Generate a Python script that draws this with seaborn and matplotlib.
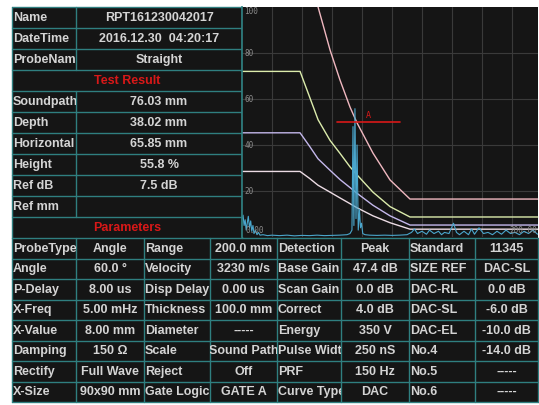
import seaborn as sns
import matplotlib.pyplot as plt
from matplotlib.patches import Rectangle
from matplotlib.transforms import Bbox, TransformedBbox

# Report header table (left of the A-scan)
info_labels = ["Name", "DateTime", "ProbeName", "", "Soundpath", "Depth",
               "Horizontal", "Height", "Ref dB", "Ref mm", ""]
info_values = ["RPT161230042017", "2016.12.30  04:20:17", "Straight", "Test Result",
               "76.03 mm", "38.02 mm", "65.85 mm", "55.8 %", "7.5 dB", "", "Parameters"]
info_titles = ["Test Result", "Parameters"]

# Parameter table, one list per column
param_col1 = ["ProbeType", "Angle", "P-Delay", "X-Freq", "X-Value", "Damping", "Rectify", "X-Size"]
param_val1 = ["Angle", "60.0 °", "8.00 us", "5.00 mHz", "8.00 mm", "150 Ω", "Full Wave", "90x90 mm"]
param_col2 = ["Range", "Velocity", "Disp Delay", "Thickness", "Diameter", "Scale", "Reject", "Gate Logic"]
param_val2 = ["200.0 mm", "3230 m/s", "0.00 us", "100.0 mm", "-----", "Sound Path", "Off", "GATE A"]
param_col3 = ["Detection", "Base Gain", "Scan Gain", "Correct", "Energy", "Pulse Width", "PRF", "Curve Type"]
param_val3 = ["Peak", "47.4 dB", "0.0 dB", "4.0 dB", "350 V", "250 nS", "150 Hz", "DAC"]
param_col4 = ["Standard", "SIZE REF", "DAC-RL", "DAC-SL", "DAC-EL", "No.4", "No.5", "No.6"]
param_val4 = ["11345", "DAC-SL", "0.0 dB", "-6.0 dB", "-10.0 dB", "-14.0 dB", "-----", "-----"]

# DAC curves (sound path mm vs amplitude %)
dac_x = [0, 38.7, 45, 50.7, 58.7, 65.3, 72, 76.7, 87.3, 98.7, 112, 200]
dac_rl = [143, 143, 122, 100, 81.3, 68.3, 56.5, 49.6, 36.5, 24.8, 16.5, 16.5]
dac_sl = [72, 72, 61, 51, 42, 36.4, 30.5, 27, 19.5, 13.2, 8.7, 8.7]
dac_el = [45.3, 45.3, 39.5, 34, 29, 25, 21.5, 19, 13.8, 9.2, 5.2, 5.2]
dac_n4 = [28.5, 28.5, 25.5, 22.5, 19.5, 17, 14.5, 12.7, 9.2, 6.2, 3.4, 3.4]

# A-scan echo
echo_x = [0, 0.7, 1.4, 2.1, 2.8, 3.5, 4.2, 5, 5.8, 6.5, 7.3, 8, 9, 10, 11, 12, 14, 17, 20,
          25, 30, 35, 40, 45, 50, 55, 60, 65, 70, 72, 73.3, 74, 74.6, 75.3, 76, 76.7,
          77.5, 78.3, 79, 79.7, 80.5, 82, 85, 90, 95, 100, 105, 110, 113, 115, 117,
          120, 123, 125, 128, 131, 133, 135, 138, 141, 143, 145, 148, 151, 153, 155,
          158, 161, 164, 167, 170, 173, 176, 179, 182, 185, 188, 191, 194, 197, 200]
echo_y = [8, 9.5, 5, 7.5, 3, 6, 9, 4, 7, 2.5, 5, 1.5, 3, 1, 2, 0.8, 1, 0.6, 0.8,
          0.6, 0.8, 0.5, 0.7, 0.6, 0.8, 0.6, 0.7, 0.8, 1, 1.5, 3, 48, 5, 55.8, 8, 40,
          3, 12, 4, 6, 1.5, 1, 0.8, 0.7, 0.8, 0.7, 0.8, 1, 2, 3.5, 1.5,
          2.5, 1.2, 3, 1.5, 2.5, 1, 2, 1.5, 6, 2, 1, 2.5, 1, 3.5, 1.2,
          4, 1.5, 2, 1, 2.5, 1.2, 3, 1.5, 2, 1, 2.5, 1.5, 3, 1.2, 2]

gate_x = [63.3, 105.3]
gate_level = [50, 50]

BG = "#151515"
LINE = "#2f7f80"
TXT = "#d4d4d4"
RED = "#d81818"
FONT = ["Liberation Sans", "DejaVu Sans"]

sns.set_theme(style="dark")

fig = plt.figure(figsize=(5.39, 4.05), dpi=100)
fig.patch.set_facecolor("white")
bg = fig.add_axes([0, 0, 1, 1])
bg.set_xlim(0, 539)
bg.set_ylim(405, 0)
bg.axis("off")
bg.add_patch(Rectangle((12, 7), 526, 395, color=BG, lw=0))


def cell_text(x0, x1, y0, y1, s, align="center", color=TXT):
    if align == "left":
        x, ha = x0 + 1, "left"
    else:
        x, ha = (x0 + x1) / 2, "center"
    t = bg.text(x, (y0 + y1) / 2 + 0.5, s, ha=ha, va="center", color=color,
                fontsize=9, fontweight="bold", family=FONT)
    t.set_clip_box(TransformedBbox(Bbox([[x0, y0], [x1, y1]]), bg.transData))
    t.set_clip_on(True)


# top-left info table
n_info = len(info_labels)
row_h = (238 - 7) / n_info
for i in range(n_info):
    y0 = 7 + i * row_h
    y1 = y0 + row_h
    bg.plot([12, 242], [y0, y0], color=LINE, lw=1)
    if info_values[i] in info_titles:
        cell_text(12, 242, y0, y1, info_values[i], color=RED)
    else:
        bg.plot([76, 76], [y0, y1], color=LINE, lw=1)
        cell_text(12, 76, y0, y1, info_labels[i], align="left")
        cell_text(76, 242, y0, y1, info_values[i])
bg.plot([12, 12], [7, 238], color=LINE, lw=1)
bg.plot([242, 242], [7, 238], color=LINE, lw=1)

# parameter table
col_edges = [12, 76, 144, 210, 277, 341, 409, 475, 538]
columns = [param_col1, param_val1, param_col2, param_val2,
           param_col3, param_val3, param_col4, param_val4]
n_par = len(param_col1)
prow_h = (402 - 238) / n_par
for i in range(n_par + 1):
    y = 238 + i * prow_h
    bg.plot([12, 538], [y, y], color=LINE, lw=1)
for x in col_edges:
    bg.plot([x, x], [238, 402], color=LINE, lw=1)
for j, col in enumerate(columns):
    for i, s in enumerate(col):
        y0 = 238 + i * prow_h
        cell_text(col_edges[j], col_edges[j + 1], y0, y0 + prow_h, s,
                  align="left" if j % 2 == 0 else "center")

# A-scan chart
ax = fig.add_axes([242 / 539, (405 - 237) / 405, (538 - 242) / 539, (237 - 7) / 405])
ax.set_facecolor(BG)
ax.set_xlim(0, (538 - 242) / 1.5)
ax.set_ylim(0, 100)
for v in range(20, 200, 20):
    ax.axvline(v, color="#3a3a3a", lw=0.8, zorder=0)
for v in range(20, 100, 20):
    ax.axhline(v, color="#3a3a3a", lw=0.8, zorder=0)

sns.lineplot(x=dac_x, y=dac_rl, ax=ax, color="#f0b8c0", lw=1, sort=False)
sns.lineplot(x=dac_x, y=dac_sl, ax=ax, color="#dcecac", lw=1, sort=False)
sns.lineplot(x=dac_x, y=dac_el, ax=ax, color="#c4b8ec", lw=1, sort=False)
sns.lineplot(x=dac_x, y=dac_n4, ax=ax, color="#ecdce4", lw=1, sort=False)
sns.lineplot(x=echo_x, y=echo_y, ax=ax, color="#4aa6cc", lw=0.8, sort=False)
sns.lineplot(x=gate_x, y=gate_level, ax=ax, color=RED, lw=1.2, sort=False)
ax.text(sum(gate_x) / 2, gate_level[0] + 1, "A", color=RED, fontsize=6,
        ha="center", va="bottom", family="DejaVu Sans Mono")

for v in range(20, 101, 20):
    ax.text(1.5, min(v, 98), str(v), color="#8c8c8c", fontsize=5.5,
            ha="left", va="center", family="DejaVu Sans Mono")
ax.text(2, 1, "0.00", color="#8c8c8c", fontsize=5.5, ha="left", va="bottom",
        family="DejaVu Sans Mono")
ax.text(196.5, 1, "200.00", color="#8c8c8c", fontsize=5.5, ha="right", va="bottom",
        family="DejaVu Sans Mono")

ax.set_xticks([])
ax.set_yticks([])
ax.set_xlabel("")
ax.set_ylabel("")
for side in ["top", "right", "bottom"]:
    ax.spines[side].set_visible(False)
ax.spines["left"].set_color(LINE)

fig.savefig("out.png", dpi=100)
